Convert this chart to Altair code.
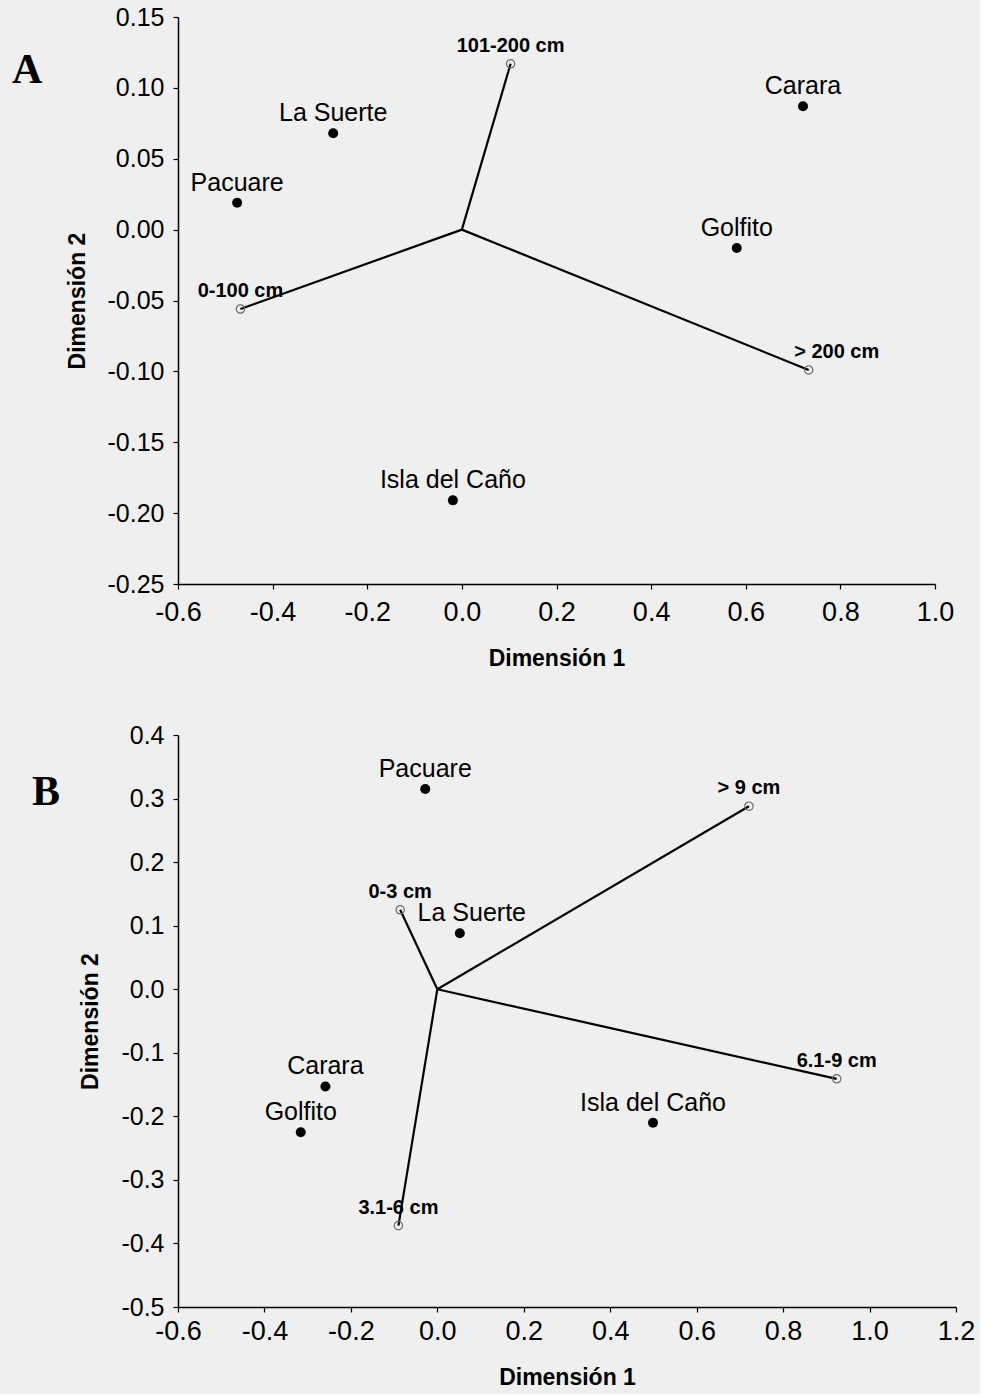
import altair as alt
import pandas as pd

SITES = ["Carara", "Golfito", "Isla del Caño", "La Suerte", "Pacuare"]

# Panel A
A_SITE_X = [0.721, 0.581, -0.019, -0.272, -0.475]
A_SITE_Y = [0.087, -0.013, -0.191, 0.068, 0.019]
A_CATS = ["0-100 cm", "101-200 cm", "> 200 cm"]
A_CAT_X = [-0.468, 0.103, 0.733]
A_CAT_Y = [-0.056, 0.117, -0.099]
A_CENTER = [0.0, 0.0]
A_XTICKS = [-0.6, -0.4, -0.2, 0.0, 0.2, 0.4, 0.6, 0.8, 1.0]
A_YTICKS = [-0.25, -0.20, -0.15, -0.10, -0.05, 0.00, 0.05, 0.10, 0.15]

# Panel B
B_SITE_X = [-0.259, -0.316, 0.499, 0.052, -0.028]
B_SITE_Y = [-0.153, -0.225, -0.210, 0.088, 0.315]
B_CATS = ["0-3 cm", "3.1-6 cm", "6.1-9 cm", "> 9 cm"]
B_CAT_X = [-0.086, -0.090, 0.924, 0.721]
B_CAT_Y = [0.125, -0.372, -0.141, 0.288]
B_CENTER = [0.0, 0.0]
B_XTICKS = [-0.6, -0.4, -0.2, 0.0, 0.2, 0.4, 0.6, 0.8, 1.0, 1.2]
B_YTICKS = [-0.5, -0.4, -0.3, -0.2, -0.1, 0.0, 0.1, 0.2, 0.3, 0.4]

FONT = "Liberation Sans, Arial, Helvetica, sans-serif"
MINUS = "\u2212"


def panel(letter, sx, sy, cats, cx, cy, center, xt, yt, yfmt, w, h,
          x_lab_pad, letter_pos, shifts):
    sites = pd.DataFrame({"name": SITES, "x": sx, "y": sy})
    cat = pd.DataFrame({
        "name": cats, "x": cx, "y": cy,
        "x0": [center[0]] * len(cats), "y0": [center[1]] * len(cats),
    })
    xscale = alt.Scale(domain=[xt[0], xt[-1]], nice=False, zero=False)
    yscale = alt.Scale(domain=[yt[0], yt[-1]], nice=False, zero=False)
    common = dict(grid=False, domainColor="black", domainWidth=1.5,
                  tickColor="black", tickWidth=1.2, tickSize=5,
                  labelFont=FONT, labelColor="black", labelFlush=False,
                  labelOverlap=False, titleFont=FONT, titleFontSize=23,
                  titleFontWeight="bold", titleColor="black")
    xaxis = alt.Axis(values=xt, title="Dimensión 1",
                     labelExpr=f"replace(format(datum.value, '.1f'), '{MINUS}', '-')",
                     labelFontSize=27, labelPadding=x_lab_pad, titlePadding=22,
                     **common)
    yaxis = alt.Axis(values=yt, title="Dimensión 2",
                     labelExpr=f"replace(format(datum.value, '{yfmt}'), '{MINUS}', '-')",
                     labelFontSize=25, labelPadding=9, titlePadding=18,
                     **common)
    X = alt.X("x:Q", scale=xscale, axis=xaxis)
    Y = alt.Y("y:Q", scale=yscale, axis=yaxis)

    lines = alt.Chart(cat).mark_rule(color="black", strokeWidth=2.2).encode(
        x=alt.X("x0:Q", scale=xscale, axis=xaxis),
        y=alt.Y("y0:Q", scale=yscale, axis=yaxis),
        x2="x:Q", y2="y:Q")
    circles = alt.Chart(cat).mark_point(shape="circle", filled=False,
                                        color="#6a6a6a", strokeWidth=1.2,
                                        size=70, opacity=1).encode(x=X, y=Y)
    dots = alt.Chart(sites).mark_circle(color="black", size=100,
                                        opacity=1).encode(x=X, y=Y)
    layers = [lines, circles, dots]
    shifted = list(shifts.keys())
    for df, fs, fw in ((sites, 25, "normal"), (cat, 20, "bold")):
        base = alt.Chart(df).mark_text(font=FONT, fontSize=fs, fontWeight=fw,
                                       color="black", baseline="alphabetic",
                                       dy=-12)
        layers.append(base.encode(x=X, y=Y, text="name:N").transform_filter(
            {"not": alt.FieldOneOfPredicate(field="name", oneOf=shifted + ["__"])}))
        for name, dx in shifts.items():
            if name in list(df["name"]):
                layers.append(
                    alt.Chart(df).mark_text(font=FONT, fontSize=fs, fontWeight=fw,
                                            color="black", baseline="alphabetic",
                                            dy=-12, dx=dx)
                    .encode(x=X, y=Y, text="name:N")
                    .transform_filter(alt.FieldEqualPredicate(field="name", equal=name)))
    lab = alt.Chart(pd.DataFrame({"t": [letter]})).mark_text(
        font="Liberation Serif, Times New Roman, serif", fontSize=42,
        fontWeight="bold", color="black", align="left", baseline="alphabetic",
        x=letter_pos[0], y=letter_pos[1]).encode(text="t:N")
    layers.append(lab)
    return alt.layer(*layers).properties(width=w, height=h)


chart_a = panel("A", A_SITE_X, A_SITE_Y, A_CATS, A_CAT_X, A_CAT_Y, A_CENTER,
                A_XTICKS, A_YTICKS, ".2f", 757, 567, 10, (-166, 66),
                {"> 200 cm": 28})
chart_b = panel("B", B_SITE_X, B_SITE_Y, B_CATS, B_CAT_X, B_CAT_Y, B_CENTER,
                B_XTICKS, B_YTICKS, ".1f", 778, 572, 6, (-146, 70),
                {"La Suerte": 12})

chart = alt.vconcat(chart_a, chart_b, spacing=53).properties(
    background="#efefef",
    padding={"left": 12, "top": 5, "right": 5, "bottom": 5},
).configure_view(stroke=None)

chart.save("out.html", embed_options={"renderer": "svg", "actions": False})
